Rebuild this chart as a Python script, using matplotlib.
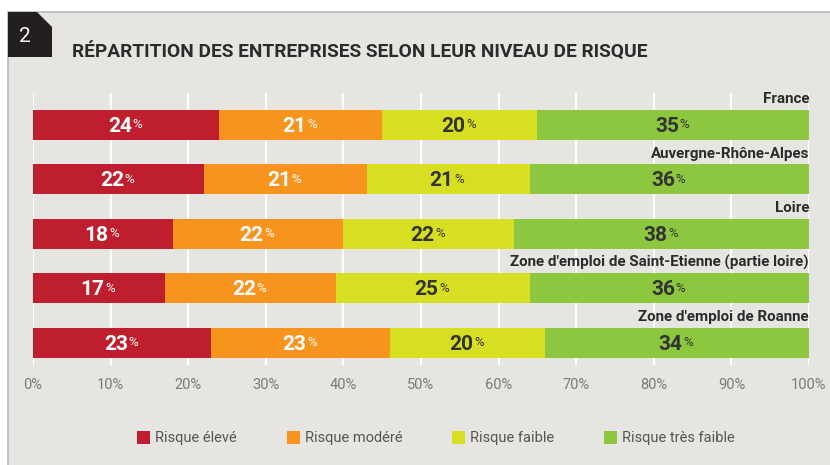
import numpy as np
import matplotlib
matplotlib.use("Agg")
from matplotlib import pyplot as plt
from matplotlib.patches import Rectangle, Polygon

plt.rcParams['font.family'] = ['Roboto', 'DejaVu Sans']

# data
zones = ['France', 'Auvergne-Rhône-Alpes', 'Loire',
         "Zone d'emploi de Saint-Etienne (partie loire)", "Zone d'emploi de Roanne"]
risque_eleve = [24, 22, 18, 17, 23]
risque_modere = [21, 21, 22, 22, 23]
risque_faible = [20, 21, 22, 25, 20]
risque_tres_faible = [35, 36, 38, 36, 34]
series_names = ['Risque élevé', 'Risque modéré', 'Risque faible', 'Risque très faible']
ticks = np.arange(0, 101, 10)
tick_labels = ['{0}%'.format(t) for t in ticks]

colors = ['#be1e2d', '#f7941d', '#d7df23', '#8dc63f']
num_colors = ['white', 'white', '#333333', '#333333']
bg = '#e6e5e1'
dark = '#2b2b2b'

W, H = 830, 465
fig = plt.figure(figsize=(W/100, H/100), dpi=100)
fig.patch.set_facecolor('white')

def px(x, y):
    # pixel (from top-left) -> figure fraction
    return (x/W, 1 - y/H)

# grey panel with thin border
fig.patches.append(Rectangle(px(8, H+2), 1, (H-10)/H, transform=fig.transFigure,
                             facecolor=bg, edgecolor='#b8b8b8', lw=1.2, zorder=-2))
# black number tab with cut corner
tab = [px(8, 12), px(37, 12), px(52, 27), px(52, 57), px(8, 57)]
fig.patches.append(Polygon(tab, closed=True, transform=fig.transFigure,
                           facecolor='#231f20', edgecolor='none', zorder=-1))
fig.text(*px(25, 37), '2', color='white', fontsize=15, ha='center', va='center')
fig.text(*px(72, 52), 'RÉPARTITION DES ENTREPRISES SELON LEUR NIVEAU DE RISQUE',
         color=dark, fontsize=13.8, fontweight='bold', ha='left', va='center')

ax = fig.add_axes([33/W, (H-365)/H, (809-33)/W, 272/H])
ax.set_zorder(2)
ax.set_facecolor('none')
for s in ax.spines.values():
    s.set_visible(False)

pitch = 54.5
top = (125 - 93)/pitch
ax.set_ylim(-top + 272/pitch, -top)
ax.set_xlim(0, 100)

bar_h = 30/pitch
y = np.arange(len(zones))
left = np.zeros(len(zones))
data = [risque_eleve, risque_modere, risque_faible, risque_tres_faible]
for j, vals in enumerate(data):
    vals = np.array(vals)
    ax.barh(y, vals, left=left, height=bar_h, color=colors[j], edgecolor='none',
            label=series_names[j], zorder=2)
    for i in range(len(zones)):
        c = left[i] + vals[i]/2
        ax.annotate(str(vals[i]), xy=(c, y[i]), xytext=(4.0, -0.8), textcoords='offset points',
                    ha='right', va='center', fontsize=15, fontweight='bold',
                    color=num_colors[j], zorder=3)
        ax.annotate('%', xy=(c, y[i]), xytext=(4.6, 0.2), textcoords='offset points',
                    ha='left', va='center', fontsize=9.5, color=num_colors[j], zorder=3)
    left = left + vals

for i, z in enumerate(zones):
    ax.annotate(z, xy=(100, y[i] - bar_h/2), xytext=(0, 5), textcoords='offset points',
                ha='right', va='baseline', fontsize=10.9, fontweight='bold', color=dark)

ax.set_yticks([])
ax.set_xticks(ticks)
ax.set_xticklabels(tick_labels)
ax.tick_params(axis='x', length=0, pad=9, labelsize=10.5, labelcolor='#7a7a7a')
ax.grid(axis='x', color='white', lw=1.5, zorder=0)
ax.set_axisbelow(True)

handles, labels = ax.get_legend_handles_labels()
leg = fig.legend(handles, labels, loc='center', bbox_to_anchor=(436/W, (H-438)/H), ncol=4,
                 frameon=False, fontsize=10.5, handlelength=0.9, handleheight=1.0,
                 handletextpad=0.35, columnspacing=3.4)
for t in leg.get_texts():
    t.set_color('#555555')

fig.savefig('out.png', dpi=100, facecolor=fig.get_facecolor())
